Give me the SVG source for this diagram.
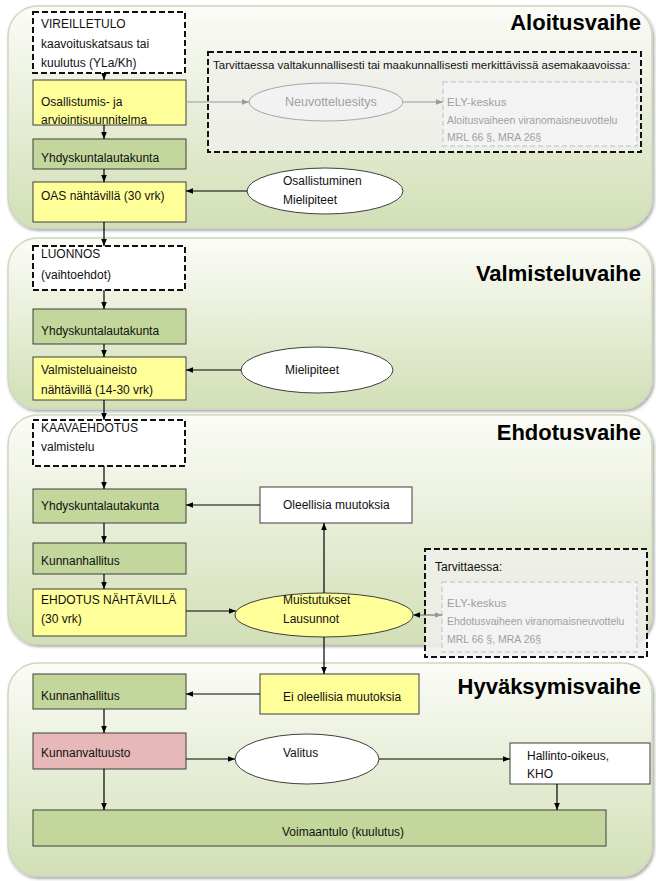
<svg xmlns="http://www.w3.org/2000/svg" width="656" height="881" viewBox="0 0 656 881">
<defs>
<linearGradient id="pg" x1="0" y1="0" x2="0" y2="1">
<stop offset="0" stop-color="#fbfcf7"/>
<stop offset="1" stop-color="#d2dfb6"/>
</linearGradient>
<filter id="sh" x="-5%" y="-5%" width="110%" height="115%">
<feDropShadow dx="1.5" dy="2" stdDeviation="1.5" flood-color="#000" flood-opacity="0.35"/>
</filter>
<marker id="a" viewBox="0 0 10 10" refX="10" refY="5" markerWidth="7" markerHeight="7" markerUnits="userSpaceOnUse" orient="auto-start-reverse">
<path d="M0,1 L10,5 L0,9 z" fill="#000"/>
</marker>
<marker id="ag" viewBox="0 0 10 10" refX="10" refY="5" markerWidth="7" markerHeight="7" markerUnits="userSpaceOnUse" orient="auto-start-reverse">
<path d="M0,1 L10,5 L0,9 z" fill="#9a9a9a"/>
</marker>
</defs>
<style>
text{font-family:"Liberation Sans",Arial,sans-serif;font-size:12px;fill:#111}
.panel{fill:url(#pg);stroke:#cfd8bd;stroke-width:1.5;filter:url(#sh)}
.title{font-weight:bold;font-size:22px;text-anchor:end;fill:#000}
.box{stroke:#3f3f3f;stroke-width:1}
.y{fill:#ffff99}
.g{fill:#c3d69b}
.w{fill:#fff}
.p{fill:#e6b9b8}
.dash{fill:#fff;stroke:#111;stroke-width:2;stroke-dasharray:6 3}
.opt{fill:#f0f0ec;fill-opacity:.85;stroke:#111;stroke-width:2;stroke-dasharray:6 3}
.inner{fill:#f3f3f3;stroke:#d0d0d0;stroke-width:1.5;stroke-dasharray:5 3}
.gray{fill:#f2f2f2;stroke:#a6a6a6;stroke-width:1}
.gt{fill:#a0a0a0}
.c{fill:none;stroke:#000;stroke-width:1.2;marker-end:url(#a)}
.cg{fill:none;stroke:#999;stroke-width:1.2;marker-end:url(#ag)}
</style>

<!-- phase panels -->
<g id="phase-aloitus">
<rect class="panel" x="8" y="6" width="644" height="222" rx="30"/>
<text class="title" x="641" y="30">Aloitusvaihe</text>
</g>
<g id="phase-valmistelu">
<rect class="panel" x="8" y="238" width="644" height="171" rx="30"/>
<text class="title" x="641" y="281">Valmisteluvaihe</text>
</g>
<g id="phase-ehdotus">
<rect class="panel" x="8" y="415" width="644" height="229" rx="30"/>
<text class="title" x="641" y="440">Ehdotusvaihe</text>
</g>
<g id="phase-hyvaksymis">
<rect class="panel" x="8" y="663" width="644" height="213" rx="30"/>
<text class="title" x="641" y="694">Hyväksymisvaihe</text>
</g>

<!-- Aloitusvaihe nodes -->
<g id="vireilletulo">
<rect class="dash" x="33" y="12" width="152" height="61"/>
<text x="41" y="28">VIREILLETULO</text>
<text x="41" y="48">kaavoituskatsaus tai</text>
<text x="41" y="67">kuulutus (YLa/Kh)</text>
</g>
<g id="oas-suunnitelma">
<rect class="box y" x="33" y="80" width="153" height="45"/>
<text x="41" y="106">Osallistumis- ja</text>
<text x="41" y="124">arviointisuunnitelma</text>
</g>
<g id="yhdyskunta-1">
<rect class="box g" x="33" y="139" width="153" height="30"/>
<text x="41" y="162">Yhdyskuntalautakunta</text>
</g>
<g id="oas-nahtavilla">
<rect class="box y" x="33" y="182" width="153" height="40"/>
<text x="41" y="200">OAS nähtävillä (30 vrk)</text>
</g>
<g id="osallistuminen">
<ellipse class="box w" cx="325" cy="191" rx="78" ry="23"/>
<text x="283" y="185">Osallistuminen</text>
<text x="283" y="204">Mielipiteet</text>
</g>
<g id="tarvittaessa-1">
<rect class="opt" x="208" y="52" width="433" height="100"/>
<text x="213" y="69" style="font-size:11.5px">Tarvittaessa valtakunnallisesti tai maakunnallisesti merkittävissä asemakaavoissa:</text>
</g>
<g id="neuvotteluesitys">
<ellipse class="gray" cx="326" cy="102" rx="77" ry="19"/>
<text class="gt" x="285" y="106" style="font-size:12.5px">Neuvotteluesitys</text>
</g>
<g id="ely-1">
<rect class="inner" x="443" y="82" width="194" height="64"/>
<text class="gt" x="447" y="106" style="font-size:11.5px">ELY-keskus</text>
<text class="gt" x="447" y="124" style="font-size:10.5px">Aloitusvaiheen viranomaisneuvottelu</text>
<text class="gt" x="447" y="141" style="font-size:10.5px">MRL 66 §, MRA 26§</text>
</g>

<!-- Valmisteluvaihe nodes -->
<g id="luonnos">
<rect class="dash" x="33" y="246" width="152" height="44"/>
<text x="41" y="258">LUONNOS</text>
<text x="41" y="279">(vaihtoehdot)</text>
</g>
<g id="yhdyskunta-2">
<rect class="box g" x="33" y="309" width="153" height="35"/>
<text x="41" y="335">Yhdyskuntalautakunta</text>
</g>
<g id="valmisteluaineisto">
<rect class="box y" x="33" y="357" width="153" height="43"/>
<text x="41" y="374">Valmisteluaineisto</text>
<text x="41" y="394">nähtävillä (14-30 vrk)</text>
</g>
<g id="mielipiteet">
<ellipse class="box w" cx="317" cy="370" rx="76" ry="23"/>
<text x="285" y="374">Mielipiteet</text>
</g>

<!-- Ehdotusvaihe nodes -->
<g id="kaavaehdotus">
<rect class="dash" x="33" y="420" width="152" height="46"/>
<text x="41" y="432">KAAVAEHDOTUS</text>
<text x="41" y="451">valmistelu</text>
</g>
<g id="yhdyskunta-3">
<rect class="box g" x="33" y="489" width="153" height="34"/>
<text x="41" y="510">Yhdyskuntalautakunta</text>
</g>
<g id="kunnanhallitus-1">
<rect class="box g" x="33" y="543" width="153" height="31"/>
<text x="41" y="565">Kunnanhallitus</text>
</g>
<g id="ehdotus-nahtavilla">
<rect class="box y" x="33" y="589" width="153" height="47"/>
<text x="41" y="604">EHDOTUS NÄHTÄVILLÄ</text>
<text x="41" y="623">(30 vrk)</text>
</g>
<g id="oleellisia">
<rect class="box w" x="260" y="487" width="152" height="36"/>
<text x="283" y="509">Oleellisia muutoksia</text>
</g>
<g id="muistutukset">
<ellipse class="box y" cx="324" cy="615" rx="89" ry="22"/>
<text x="283" y="604">Muistutukset</text>
<text x="283" y="623">Lausunnot</text>
</g>
<g id="tarvittaessa-2">
<rect class="opt" x="425" y="549" width="222" height="108"/>
<text x="435" y="571">Tarvittaessa:</text>
</g>
<g id="ely-2">
<rect class="inner" x="442" y="582" width="195" height="70"/>
<text class="gt" x="447" y="607" style="font-size:11.5px">ELY-keskus</text>
<text class="gt" x="447" y="625" style="font-size:10.5px">Ehdotusvaiheen viranomaisneuvottelu</text>
<text class="gt" x="447" y="643" style="font-size:10.5px">MRL 66 §, MRA 26§</text>
</g>

<!-- Hyväksymisvaihe nodes -->
<g id="ei-oleellisia">
<rect class="box y" x="260" y="674" width="159" height="40"/>
<text x="283" y="701">Ei oleellisia muutoksia</text>
</g>
<g id="kunnanhallitus-2">
<rect class="box g" x="33" y="674" width="153" height="35"/>
<text x="41" y="700">Kunnanhallitus</text>
</g>
<g id="kunnanvaltuusto">
<rect class="box p" x="33" y="733" width="153" height="36"/>
<text x="41" y="757">Kunnanvaltuusto</text>
</g>
<g id="valitus">
<ellipse class="box w" cx="307" cy="759" rx="72" ry="25"/>
<text x="283" y="757">Valitus</text>
</g>
<g id="hallinto-oikeus">
<rect class="box w" x="510" y="743" width="140" height="41"/>
<text x="527" y="760">Hallinto-oikeus,</text>
<text x="527" y="778">KHO</text>
</g>
<g id="voimaantulo">
<rect class="box g" x="33" y="810" width="573" height="36"/>
<text x="282" y="836">Voimaantulo (kuulutus)</text>
</g>

<!-- connectors -->
<g id="connectors">
<path class="c" d="M104,73 V80"/>
<path class="c" d="M104,125 V139"/>
<path class="c" d="M104,169 V182"/>
<path class="c" d="M247,191 H186"/>
<path class="cg" d="M186,102 H249"/>
<path class="cg" d="M403,102 H443"/>
<path class="c" d="M104,222 V246"/>
<path class="c" d="M104,290 V309"/>
<path class="c" d="M104,344 V357"/>
<path class="c" d="M241,370 H186"/>
<path class="c" d="M104,400 V420"/>
<path class="c" d="M104,466 V489"/>
<path class="c" d="M260,505 H186"/>
<path class="c" d="M104,523 V543"/>
<path class="c" d="M104,574 V589"/>
<path class="c" d="M186,611 H236"/>
<path class="c" d="M324,593 V523"/>
<path class="c" d="M324,637 V674"/>
<path d="M413,615 H442" fill="none" stroke="#777" stroke-width="1.2" marker-start="url(#a)" marker-end="url(#ag)"/>
<path class="c" d="M260,694 H186"/>
<path class="c" d="M104,709 V733"/>
<path class="c" d="M186,759 H235"/>
<path class="c" d="M379,759 H510"/>
<path class="c" d="M557,784 V810"/>
<path class="c" d="M104,769 V810"/>
</g>
</svg>
